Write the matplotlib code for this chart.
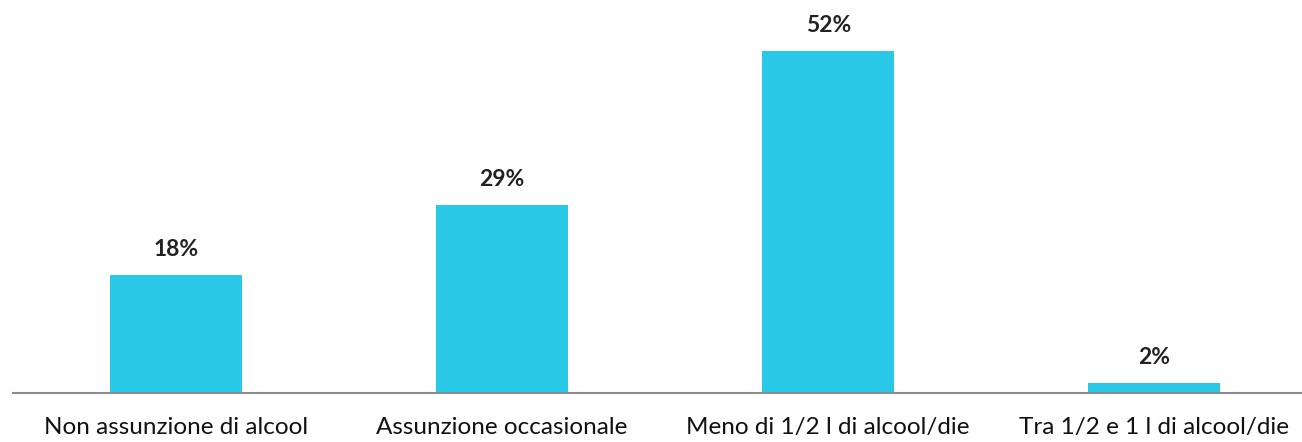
import matplotlib
matplotlib.use("Agg")
import matplotlib.pyplot as plt

categories = ["Non assunzione di alcool", "Assunzione occasionale",
              "Meno di 1/2 l di alcool/die", "Tra 1/2 e 1 l di alcool/die"]
values = [17.9, 28.6, 52, 1.5]
labels = ["18%", "29%", "52%", "2%"]

plt.rcParams['font.family'] = ['Lato', 'DejaVu Sans']
fig = plt.figure(figsize=(13.02, 4.42), dpi=100)
ax = fig.add_axes([13/1302, 49/442, 1289/1302, 60*6.577/442])
x = list(range(len(categories)))
bars = ax.bar(x, values, width=0.405, color="#29C8E6")
ax.set_xlim(-0.5, 3.453)
ax.set_ylim(0, 60)
for xi, v, lab in zip(x, values, labels):
    ax.annotate(lab, (xi, v), xytext=(0, 11), textcoords="offset points",
                ha="center", va="bottom", fontsize=16.5, fontweight="bold", color="#222222")
ax.set_xticks(x)
ax.set_xticklabels(categories, fontsize=17.5, color="#111111")
ax.tick_params(axis="x", length=0, pad=17)
ax.set_yticks([])
for s in ["top", "right", "left"]:
    ax.spines[s].set_visible(False)
ax.spines["bottom"].set_color("#8C8C8C")
ax.spines["bottom"].set_linewidth(1.5)
fig.savefig("out.png", dpi=100)
